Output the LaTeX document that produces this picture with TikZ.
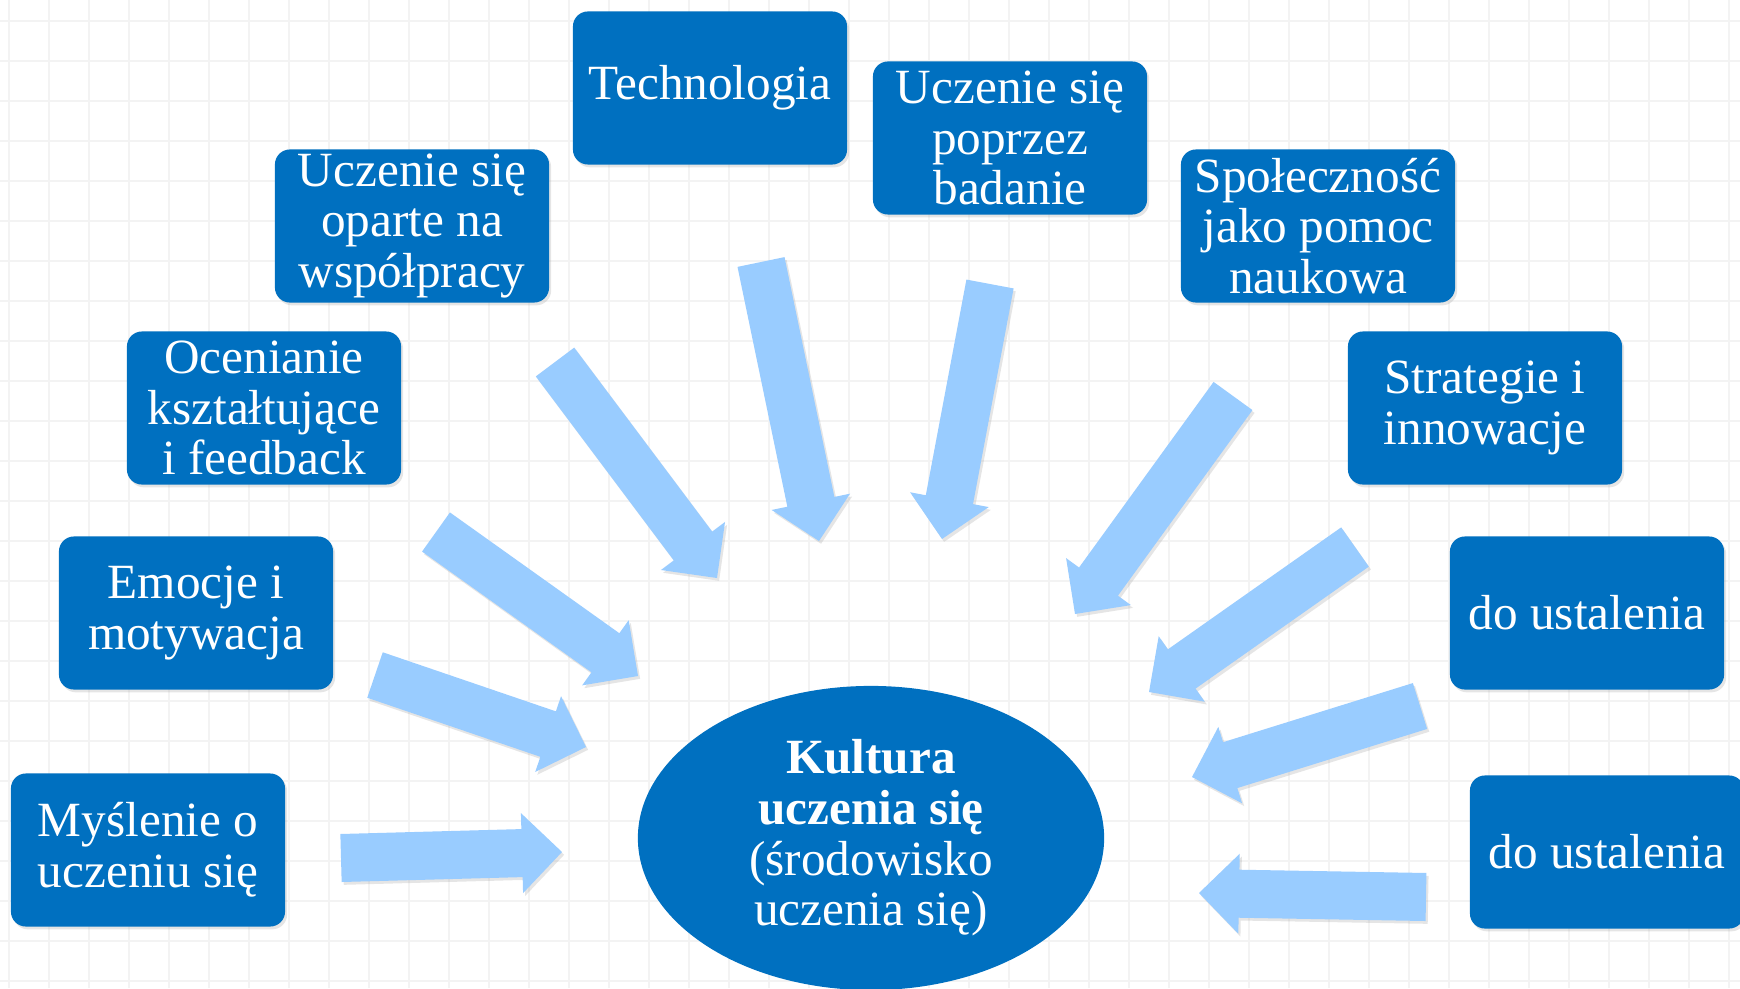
\documentclass[tikz,border=0pt]{standalone}
\usepackage{fontspec}
\setmainfont{Liberation Serif}
\usetikzlibrary{calc,shapes.geometric,shadows}
\definecolor{boxblue}{HTML}{0070C0}
\definecolor{arrowblue}{HTML}{99CCFF}
\definecolor{gridgray}{HTML}{F3F3F3}
\tikzset{
  topic/.style={fill=boxblue, text=white, rounded corners=0.15cm, minimum width=2.74cm,
    minimum height=1.53cm, inner sep=0pt, align=center, font=\fontsize{14}{14.4}\selectfont,
    drop shadow={opacity=0.2, shadow xshift=0.6pt, shadow yshift=-0.8pt}},
  hub/.style={ellipse, fill=boxblue, text=white, minimum width=4.66cm, minimum height=3.04cm,
    inner sep=0pt, align=center, font=\fontsize{14}{14.4}\selectfont},
  flow/.style={fill=arrowblue, drop shadow={opacity=0.2, shadow xshift=0.6pt, shadow yshift=-0.8pt}},
  gridline/.style={gridgray, line width=0.02cm}
}
\newcommand{\blockarrow}[2]{%
  \coordinate (#1h) at ($(#2)!0.40cm!(#1)$);
  \fill[flow] ($(#1)!0.24cm!90:(#2)$) -- ($(#1h)!0.24cm!90:(#2)$) -- ($(#1h)!0.40cm!90:(#2)$)
    -- (#2) -- ($(#1h)!0.40cm!-90:(#2)$) -- ($(#1h)!0.24cm!-90:(#2)$) -- ($(#1)!0.24cm!-90:(#2)$) -- cycle;}
\begin{document}
\begin{tikzpicture}[x=0.01cm, y=-0.01cm]
  \fill[white] (0,0) rectangle (1740,988);
  \useasboundingbox (0,0) rectangle (1740,988);
  \clip (0,0) rectangle (1740,988);
  \foreach \gx in {9,49,...,1729} \draw[gridline] (\gx,0) -- (\gx,988);
  \foreach \gy in {21,61,...,981} \draw[gridline] (0,\gy) -- (1740,\gy);

  \node[topic] (tech) at (710,88) {Technologia};
  \node[topic] (badanie) at (1010,138) {Uczenie się\\poprzez\\badanie};
  \node[topic] (wspol) at (412,226) {Uczenie się\\oparte na\\współpracy};
  \node[topic] (spol) at (1318,226) {Społeczność\\jako pomoc\\naukowa};
  \node[topic] (ocen) at (264,408) {Ocenianie\\kształtujące\\i feedback};
  \node[topic] (strat) at (1485,408) {Strategie i\\innowacje};
  \node[topic] (emoc) at (196,613) {Emocje i\\motywacja};
  \node[topic] (ustA) at (1587,613) {do ustalenia};
  \node[topic] (mysl) at (148,850) {Myślenie o\\uczeniu się};
  \node[topic] (ustB) at (1607,852) {do ustalenia};
  \node[hub] (kultura) at (871,838) {\textbf{Kultura}\\\textbf{uczenia się}\\(środowisko\\uczenia się)};

  \coordinate (mt) at (341,858);   \coordinate (mp) at (562,852);
  \coordinate (et) at (375,675);   \coordinate (ep) at (586,747);
  \coordinate (ot) at (436,532);   \coordinate (op) at (638,676);
  \coordinate (wt) at (555,362);   \coordinate (wp) at (717,578);
  \coordinate (tt) at (761,262);   \coordinate (tp) at (819,541);
  \coordinate (bt) at (990,284);   \coordinate (bp) at (942,539);
  \coordinate (st) at (1233,396);  \coordinate (sp) at (1075,614);
  \coordinate (rt) at (1355,547);  \coordinate (rp) at (1149,692);
  \coordinate (at) at (1420,706);  \coordinate (ap) at (1192,777);
  \coordinate (ut) at (1426,897);  \coordinate (up) at (1199,893);
  \foreach \a/\b in {mt/mp,et/ep,ot/op,wt/wp,tt/tp,bt/bp,st/sp,rt/rp,at/ap,ut/up}
    \blockarrow{\a}{\b};
\end{tikzpicture}
\end{document}
